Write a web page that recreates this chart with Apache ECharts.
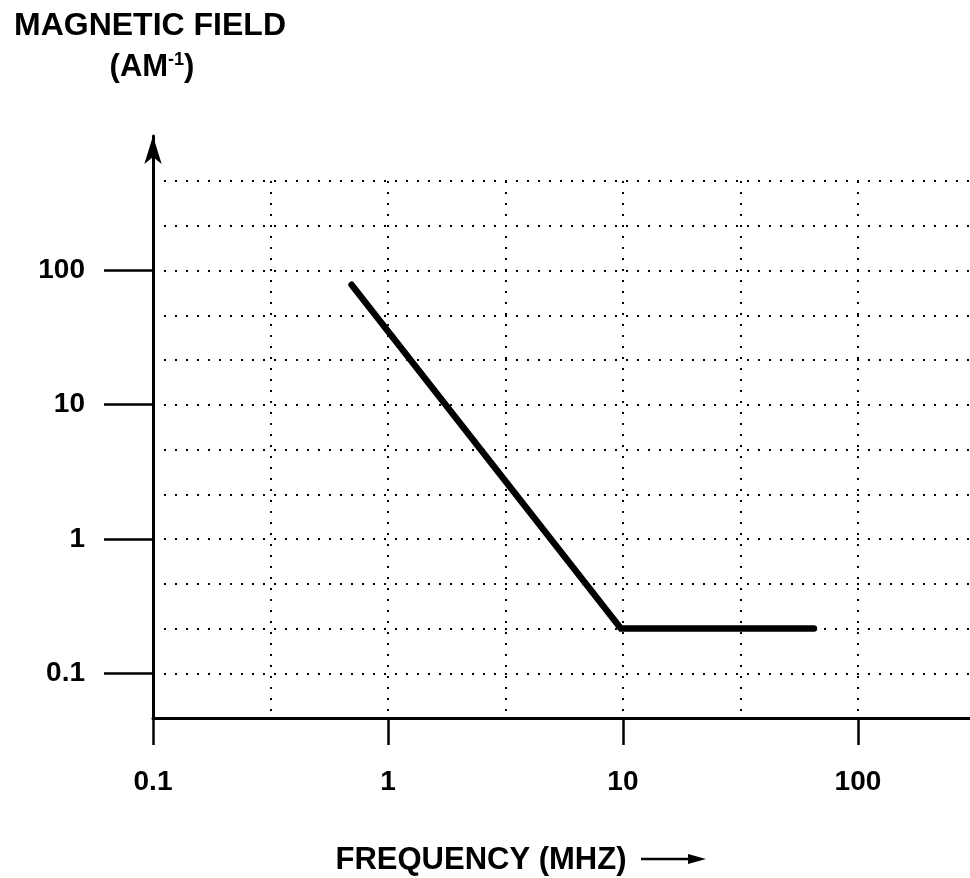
<!DOCTYPE html>
<html>
<head>
<meta charset="utf-8">
<title>Magnetic field vs frequency</title>
<script src="https://cdn.jsdelivr.net/npm/echarts@6/dist/echarts.min.js"></script>
<style>
html, body { margin: 0; padding: 0; background: #fff; }
#chart { width: 970px; height: 878px; }
</style>
</head>
<body>
<div id="chart"></div>
<script>
// values: frequency in MHz, field in A/m
const frequency = [0.7, 9.8, 65]
const field = [78, 0.215, 0.215]

// decade ticks on both axes
const xTickValues = [0.1, 1, 10, 100]
const xTickLabels = ['0.1', '1', '10', '100']
const yTickValues = [0.1, 1, 10, 100]
const yTickLabels = ['0.1', '1', '10', '100']

const lg = v => Math.log10(v)
const labelOf = (values, labels) => v => {
  const i = values.findIndex(t => Math.abs(lg(t) - v) < 1e-6)
  return i < 0 ? '' : labels[i]
}

const FONT = '"Liberation Sans", Arial, Helvetica, sans-serif'
const dotted = { color: '#000', width: 2, type: [2, 9] }
const labelStyle = { color: '#000', fontSize: 28, fontWeight: 'bold', fontFamily: FONT }
const X_MAX = 2.477

let chart = echarts.init(document.getElementById('chart'))
let option = {
  animation: false,
  grid: [
    // axes + data
    { left: 153, right: 0, top: 136, bottom: 160, containLabel: false },
    // dotted grid (stops at the top grid line)
    { left: 153, right: 0, top: 181, bottom: 160, containLabel: false }
  ],
  xAxis: [
    {
      gridIndex: 0,
      type: 'value',
      min: -1,
      max: X_MAX,
      axisLine: { onZero: false, lineStyle: { color: '#000', width: 3 } },
      axisTick: {
        show: true,
        customValues: xTickValues.map(lg),
        length: 27,
        lineStyle: { color: '#000', width: 2.5 }
      },
      axisLabel: Object.assign({
        customValues: xTickValues.map(lg),
        formatter: labelOf(xTickValues, xTickLabels),
        margin: 50
      }, labelStyle),
      splitLine: { show: false },
      z: 4
    },
    {
      gridIndex: 1,
      type: 'value',
      min: -1,
      max: X_MAX,
      interval: 0.5,
      axisLine: { show: false },
      axisTick: { show: false },
      axisLabel: { show: false },
      splitLine: { show: true, showMinLine: false, showMaxLine: false, lineStyle: dotted }
    }
  ],
  yAxis: [
    {
      gridIndex: 0,
      type: 'value',
      min: -4 / 3,
      max: 3,
      axisLine: {
        onZero: false,
        symbol: ['none', 'arrow'],
        symbolSize: [13, 28],
        lineStyle: { color: '#000', width: 3 }
      },
      axisTick: {
        show: true,
        customValues: yTickValues.map(lg),
        length: 49,
        lineStyle: { color: '#000', width: 2.5 }
      },
      axisLabel: Object.assign({
        customValues: yTickValues.map(lg),
        formatter: labelOf(yTickValues, yTickLabels),
        margin: 68
      }, labelStyle),
      splitLine: { show: false },
      z: 4
    },
    {
      gridIndex: 1,
      type: 'value',
      min: -4 / 3,
      max: 8 / 3,
      interval: 1 / 3,
      axisLine: { show: false },
      axisTick: { show: false },
      axisLabel: { show: false },
      splitLine: { show: true, showMinLine: false, showMaxLine: true, lineStyle: dotted }
    }
  ],
  series: [
    {
      type: 'line',
      xAxisIndex: 0,
      yAxisIndex: 0,
      data: frequency.map((f, i) => [lg(f), lg(field[i])]),
      symbol: 'none',
      lineStyle: { color: '#000', width: 6.5, cap: 'round', join: 'miter' },
      z: 5
    }
  ],
  graphic: [
    {
      type: 'text', x: 150, y: 26,
      style: { text: 'MAGNETIC FIELD', align: 'center', verticalAlign: 'middle', font: 'bold 32px ' + FONT, fill: '#000' }
    },
    {
      type: 'text', x: 152, y: 67,
      style: {
        text: '(AM{sup|-1})',
        align: 'center',
        verticalAlign: 'middle',
        font: 'bold 31px ' + FONT,
        fill: '#000',
        rich: { sup: { fontSize: 18, fontWeight: 'bold', fontFamily: FONT, verticalAlign: 'top', lineHeight: 32 } }
      }
    },
    {
      type: 'text', x: 481, y: 860,
      style: { text: 'FREQUENCY (MHZ)', align: 'center', verticalAlign: 'middle', font: 'bold 31px ' + FONT, fill: '#000' }
    },
    {
      type: 'line',
      shape: { x1: 641, y1: 859, x2: 698, y2: 859 },
      style: { stroke: '#000', lineWidth: 2.5 }
    },
    {
      type: 'polygon',
      shape: { points: [[688, 854], [706, 859], [688, 864]] },
      style: { fill: '#000' }
    }
  ]
}
chart.setOption(option)
</script>
</body>
</html>
